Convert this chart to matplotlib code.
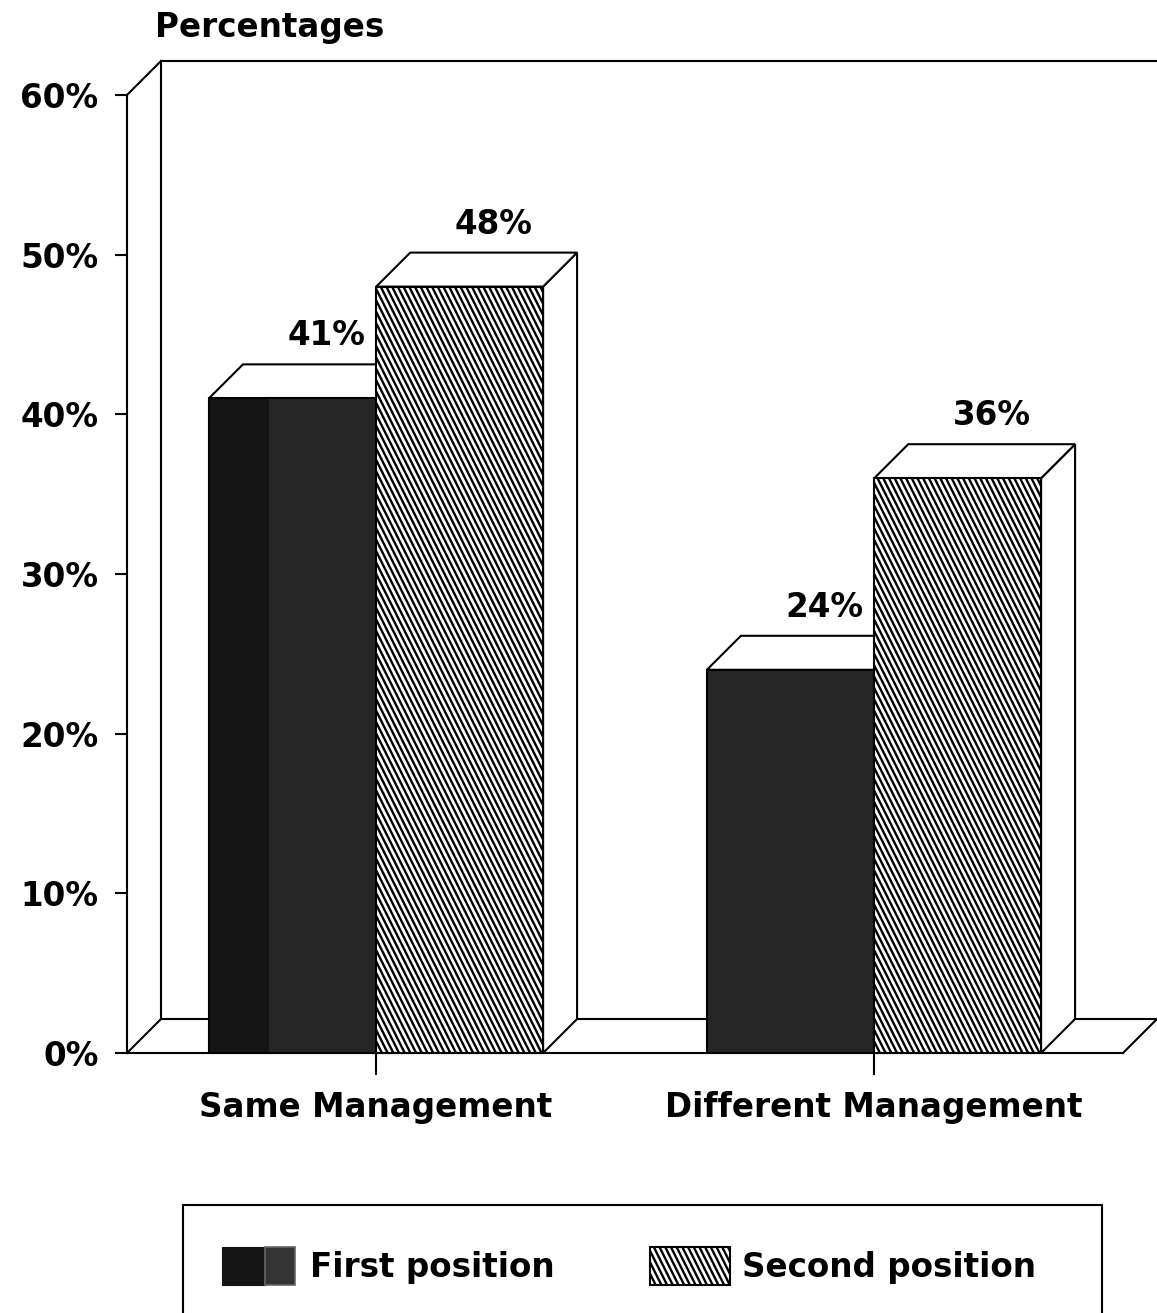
"""
Same / Different Management bar chart (pseudo 3D)
"""

import matplotlib

matplotlib.use("Agg")

import numpy as np
import matplotlib.pyplot as plt
from matplotlib.collections import LineCollection
from matplotlib.patches import Polygon, Rectangle

plt.rcParams["font.family"] = ["DejaVu Sans"]
plt.rcParams["font.weight"] = "bold"

# data
categories = ["Same Management", "Different Management"]
series_names = ["First position", "Second position"]
first_position = [41, 24]
second_position = [48, 36]
y_ticks = [0, 10, 20, 30, 40, 50, 60]

W, H = 1157, 1313
DARK = "#262626"
DARKER = "#151515"
HATCH_STEP = 5.7   # px between hatch lines, horizontally
HATCH_LEAN = 0.5   # px to the right per px down
HATCH_LW = 1.7


def fx(px):
    return px / W


def fy(py):
    return 1 - py / H


def steep_hatch(x0, x1, y0, y1, sx, sy, transform, clip, zorder):
    """steep \\\\ lines over a box, given px per unit (sx, sy)"""
    h_px = (y1 - y0) * sy
    shift = HATCH_LEAN * h_px / sx
    step = HATCH_STEP / sx
    starts = np.arange(x0 - shift, x1 + step, step)
    segs = [[(s, y1), (s + shift, y0)] for s in starts]
    lc = LineCollection(segs, colors="black", linewidths=HATCH_LW,
                        transform=transform, zorder=zorder)
    # clip to the patch outline (a path, so add_collection keeps it)
    lc.set_clip_path(clip.get_path(), clip.get_transform())
    return lc


fig = plt.figure(figsize=(W / 100, H / 100), dpi=100)
ax = fig.add_axes([fx(127), fy(1053), fx(1123 - 127), (1053 - 95) / H])
ax.set_xlim(-0.5, 1.5)
ax.set_ylim(0, 60)

p0, p1 = ax.transData.transform([(0, 0), (1, 1)])
sx, sy = p1 - p0

# depth of the 3D look, in data units (about 34 px each way)
dx = 34 / sx
dy = 34 / sy
bar_w = 0.335
lw = 1.5

# back wall and floor
x_left, x_right = ax.get_xlim()
wall = dict(color="black", lw=lw, clip_on=False, zorder=1)
ax.plot([x_left + dx, x_left + dx, x_right + dx], [dy, 60 + dy, 60 + dy], **wall)
ax.plot([x_left + dx, x_right + dx], [dy, dy], **wall)
ax.plot([x_left, x_left + dx], [60, 60 + dy], **wall)
ax.plot([x_left, x_left + dx], [0, dy], **wall)
ax.plot([x_right, x_right + dx], [0, dy], **wall)


def draw_box(x, v, z, color, hatched=False):
    x0, x1 = x - bar_w / 2, x + bar_w / 2
    top = Polygon([(x0, v), (x0 + dx, v + dy), (x1 + dx, v + dy), (x1, v)],
                  closed=True, facecolor="white", edgecolor="black", lw=lw,
                  zorder=z, clip_on=False)
    side = Polygon([(x1, 0), (x1, v), (x1 + dx, v + dy), (x1 + dx, dy)],
                   closed=True, facecolor="white", edgecolor="black", lw=lw,
                   zorder=z, clip_on=False)
    ax.add_patch(side)
    ax.add_patch(top)
    bars = ax.bar(x, v, bar_w, color=color, edgecolor="none", lw=0,
                  zorder=z + 0.5, clip_on=False)
    if hatched:
        ax.add_collection(steep_hatch(x0, x1, 0, v, sx, sy, ax.transData,
                                      bars[0], z + 0.6))
    ax.add_patch(Rectangle((x0, 0), bar_w, v, facecolor="none",
                           edgecolor="black", lw=lw, zorder=z + 0.7,
                           clip_on=False))
    ax.text(x + dx, v + dy + 0.75, f"{v}%", ha="center", va="bottom",
            fontsize=23.5, fontweight="bold", zorder=10)


for i, cat in enumerate(categories):
    x1 = i - 0.168
    x2 = i + 0.168
    draw_box(x1, first_position[i], 2 + 4 * i, DARK)
    if i == 0:
        # darker strip on the left of the first bar
        ax.bar(x1 - bar_w / 2 + 0.06, first_position[i], 0.12, color=DARKER,
               lw=0, zorder=2.55)
    draw_box(x2, second_position[i], 4 + 4 * i, "white", hatched=True)

# axes styling
for side in ["top", "right"]:
    ax.spines[side].set_visible(False)
ax.spines["left"].set_linewidth(lw)
ax.spines["bottom"].set_linewidth(lw)
ax.spines["left"].set_zorder(0.5)
ax.spines["bottom"].set_zorder(20)

ax.set_yticks(y_ticks)
ax.set_yticklabels([f"{t}%" for t in y_ticks])
ax.tick_params(axis="y", length=8.5, width=lw, pad=12, labelsize=23.5)
ax.set_xticks(range(len(categories)))
ax.set_xticklabels(categories)
ax.tick_params(axis="x", length=16, width=lw, pad=11, labelsize=23.5)
for lab in ax.get_xticklabels() + ax.get_yticklabels():
    lab.set_fontweight("bold")

fig.text(fx(155), fy(27), "Percentages", ha="left", va="center",
         fontsize=23.5, fontweight="bold")

# legend box (runs off the bottom of the page)
fig.add_artist(Rectangle((fx(183), fy(1330)), fx(1102 - 183), (1330 - 1205) / H,
                         transform=fig.transFigure, facecolor="none",
                         edgecolor="black", lw=lw))
fig.add_artist(Rectangle((fx(222), fy(1285)), fx(43), 38 / H,
                         transform=fig.transFigure, facecolor=DARKER,
                         edgecolor=DARKER, lw=0.8))
fig.add_artist(Rectangle((fx(265), fy(1285)), fx(30), 38 / H,
                         transform=fig.transFigure, facecolor="#333333",
                         edgecolor="#666666", lw=1.2))
key = Rectangle((fx(650), fy(1285)), fx(80), 38 / H,
                transform=fig.transFigure, facecolor="white",
                edgecolor="none")
fig.add_artist(key)
fig.add_artist(steep_hatch(fx(650), fx(730), fy(1285), fy(1247), W, H,
                           fig.transFigure, key, 3))
fig.add_artist(Rectangle((fx(650), fy(1285)), fx(80), 38 / H,
                         transform=fig.transFigure, facecolor="none",
                         edgecolor="black", lw=lw, zorder=4))
fig.text(fx(310), fy(1268), series_names[0], ha="left", va="center",
         fontsize=23.5, fontweight="bold")
fig.text(fx(742), fy(1268), series_names[1], ha="left", va="center",
         fontsize=23.5, fontweight="bold")

plt.savefig("out.png", dpi=100)
plt.close()
